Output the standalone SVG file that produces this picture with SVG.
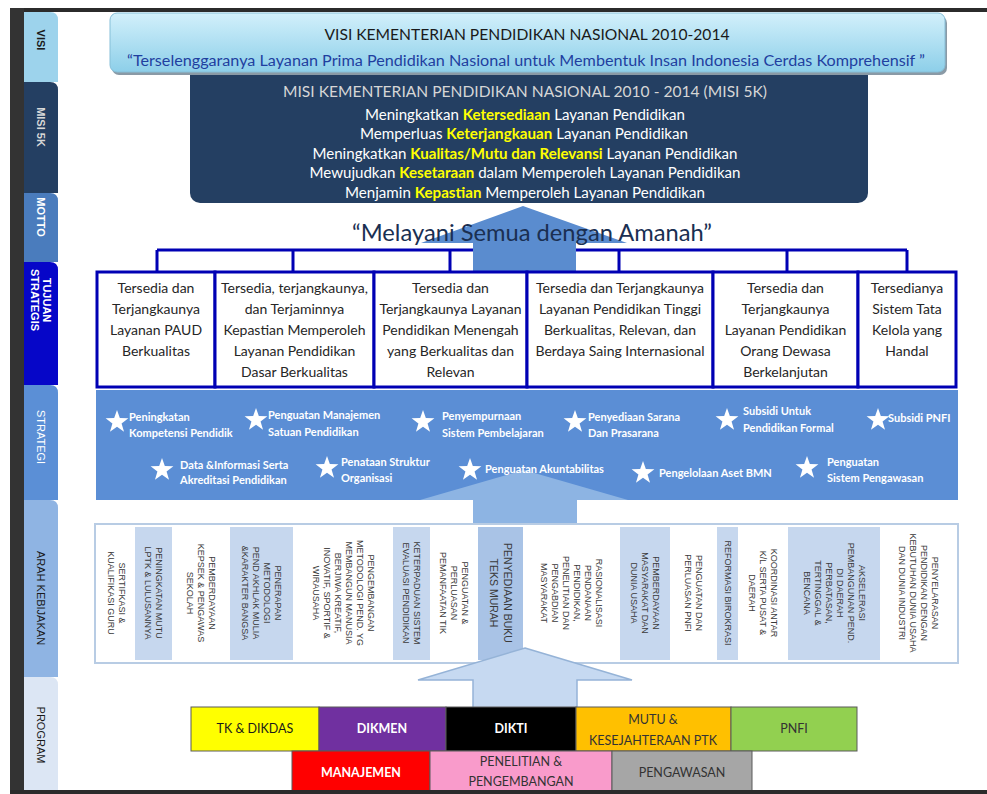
<svg xmlns="http://www.w3.org/2000/svg" width="987" height="794" viewBox="0 0 987 794">
<defs>
  <linearGradient id="visiGrad" x1="0" y1="0" x2="0" y2="1">
    <stop offset="0" stop-color="#d2f0fb"/>
    <stop offset="1" stop-color="#8dcfe9"/>
  </linearGradient>
  <path id="star" d="M0,-12 L2.82,-3.88 L11.41,-3.71 L4.57,1.48 L7.05,9.71 L0,4.8 L-7.05,9.71 L-4.57,1.48 L-11.41,-3.71 L-2.82,-3.88 Z" fill="#ffffff"/>
</defs>
<style>
  .side{font-family:"Liberation Sans",Arial,sans-serif;font-size:11px;dominant-baseline:central;text-anchor:middle}
  .tuj{font-family:Lato,"Open Sans",sans-serif;font-size:14px;fill:#262626;text-anchor:middle}
  .tbox{fill:#ffffff;stroke:#0000b4;stroke-width:3}
  .str{font-family:Lato,"Open Sans",sans-serif;font-size:11px;font-weight:bold;fill:#ffffff}
  .arah{font-family:"Liberation Sans",Arial,sans-serif;font-size:9px;fill:#3a3a3a;text-anchor:middle;dominant-baseline:central}
  .cw{fill:#ffffff}
  .cb{fill:#c6d7ee}
  .prog{stroke:#5a5a5a;stroke-width:1}
  .pt{font-family:Lato,"Open Sans",sans-serif;font-size:12.5px;text-anchor:middle}
  .conn{stroke:#0000b4;stroke-width:3;fill:none}
  .misi{font-family:Lato,"Open Sans",sans-serif;font-size:14.5px;fill:#ffffff;text-anchor:middle}
  .hl{fill:#ffff00;font-weight:bold}
</style>

<rect x="0" y="0" width="987" height="794" fill="#ffffff"/>

<!-- frame -->
<g id="frame">
  <rect x="10" y="8" width="977" height="4" fill="#2b2b2b"/>
  <rect x="10" y="8" width="14" height="786" fill="#333333"/>
</g>

<!-- sidebar tabs -->
<g id="tab-visi">
  <path d="M24,12 H50 Q58,12 58,20 V82 H24 Z" fill="#9dd3ec"/>
  <text class="side" transform="translate(41,40) rotate(90)" fill="#1a1a1a" font-weight="bold">VISI</text>
</g>
<g id="tab-misi">
  <path d="M24,82 H50 Q58,82 58,90 V193 H24 Z" fill="#243f62"/>
  <text class="side" transform="translate(41,127) rotate(90)" fill="#d8d8d8" font-weight="bold">MISI 5K</text>
</g>
<g id="tab-motto">
  <path d="M24,193 H50 Q58,193 58,201 V262 H24 Z" fill="#4a7cbd"/>
  <text class="side" transform="translate(41,217) rotate(90)" fill="#ffffff" font-weight="bold">MOTTO</text>
</g>
<g id="tab-tujuan">
  <path d="M24,262 H50 Q58,262 58,270 V385 H24 Z" fill="#0606c8"/>
  <text class="side" transform="translate(41,300) rotate(90)" fill="#ffffff" font-weight="bold"><tspan x="0" y="-6">TUJUAN</tspan><tspan x="0" y="6">STRATEGIS</tspan></text>
</g>
<g id="tab-strategi">
  <path d="M24,385 H50 Q58,385 58,393 V500 H24 Z" fill="#5b8fd6"/>
  <text class="side" transform="translate(41,437) rotate(90)" fill="#ffffff">STRATEGI</text>
</g>
<g id="tab-arah">
  <path d="M24,500 H50 Q58,500 58,508 V677 H24 Z" fill="#8fb4e3"/>
  <text class="side" transform="translate(41,598) rotate(90)" fill="#1a1a1a">ARAH KEBIJAKAN</text>
</g>
<g id="tab-program">
  <path d="M24,677 H50 Q58,677 58,685 V790 H24 Z" fill="#dce6f4"/>
  <text class="side" transform="translate(41,735) rotate(90)" fill="#1a1a1a">PROGRAM</text>
</g>

<!-- MISI -->
<g id="misi">
  <rect x="190" y="58" width="678" height="145" rx="10" fill="#243f62"/>
  <text class="misi" x="525" y="97" style="fill:#d6d6d6" textLength="484" lengthAdjust="spacingAndGlyphs">MISI KEMENTERIAN PENDIDIKAN NASIONAL 2010 - 2014 (MISI 5K)</text>
  <text class="misi" x="525" y="120" textLength="320" lengthAdjust="spacingAndGlyphs">Meningkatkan <tspan class="hl">Ketersediaan</tspan> Layanan Pendidikan</text>
  <text class="misi" x="524" y="139" textLength="328" lengthAdjust="spacingAndGlyphs">Memperluas <tspan class="hl">Keterjangkauan</tspan> Layanan Pendidikan</text>
  <text class="misi" x="525" y="159" textLength="425" lengthAdjust="spacingAndGlyphs">Meningkatkan <tspan class="hl">Kualitas/Mutu dan Relevansi</tspan> Layanan Pendidikan</text>
  <text class="misi" x="525" y="178" textLength="431" lengthAdjust="spacingAndGlyphs">Mewujudkan <tspan class="hl">Kesetaraan</tspan> dalam Memperoleh Layanan Pendidikan</text>
  <text class="misi" x="525" y="198" textLength="360" lengthAdjust="spacingAndGlyphs">Menjamin <tspan class="hl">Kepastian</tspan> Memperoleh Layanan Pendidikan</text>
</g>

<!-- VISI -->
<g id="visi">
  <rect x="112" y="16" width="835" height="59" rx="7" fill="#8a9aa6"/>
  <rect x="110" y="13" width="835" height="59" rx="7" fill="url(#visiGrad)" stroke="#86bfd8" stroke-width="1"/>
  <text x="527" y="40" font-family="Lato,'Open Sans',sans-serif" font-size="16" fill="#1a1a1a" text-anchor="middle" textLength="405" lengthAdjust="spacingAndGlyphs">VISI KEMENTERIAN PENDIDIKAN NASIONAL 2010-2014</text>
  <text x="526" y="66" font-family="Lato,'Open Sans',sans-serif" font-size="15.5" fill="#1f3fa0" text-anchor="middle" textLength="798" lengthAdjust="spacingAndGlyphs">“Terselenggaranya Layanan Prima Pendidikan Nasional untuk Membentuk Insan Indonesia Cerdas Komprehensif ”</text>
</g>

<!-- connectors -->
<g id="connectors">
  <path class="conn" d="M157,250 H907 M157,250 V272 M293,250 V272 M450,250 V272 M619,250 V272 M787,250 V272 M907,250 V272"/>
  <polygon points="523,206 627,243 576,243 576,272 473,272 473,243 421,243" fill="#5a8ccf"/>
</g>

<!-- MOTTO -->
<g id="motto">
  <text x="532" y="241" font-family="Lato,'Open Sans',sans-serif" font-size="24" fill="#1a2f52" text-anchor="middle" textLength="360" lengthAdjust="spacingAndGlyphs">“Melayani Semua dengan Amanah”</text>
</g>

<!-- TUJUAN STRATEGIS -->
<g id="tujuan-1">
  <rect class="tbox" x="97" y="272" width="118" height="115"/>
  <text class="tuj" x="156" y="293">Tersedia dan<tspan x="156" dy="21">Terjangkaunya</tspan><tspan x="156" dy="21">Layanan PAUD</tspan><tspan x="156" dy="21">Berkualitas</tspan></text>
</g>
<g id="tujuan-2">
  <rect class="tbox" x="215" y="272" width="159" height="115"/>
  <text class="tuj" x="294.5" y="293">Tersedia, terjangkaunya,<tspan x="294.5" dy="21">dan Terjaminnya</tspan><tspan x="294.5" dy="21">Kepastian Memperoleh</tspan><tspan x="294.5" dy="21">Layanan Pendidikan</tspan><tspan x="294.5" dy="21">Dasar Berkualitas</tspan></text>
</g>
<g id="tujuan-3">
  <rect class="tbox" x="374" y="272" width="153" height="115"/>
  <text class="tuj" x="450.5" y="293">Tersedia dan<tspan x="450.5" dy="21">Terjangkaunya Layanan</tspan><tspan x="450.5" dy="21">Pendidikan Menengah</tspan><tspan x="450.5" dy="21">yang Berkualitas dan</tspan><tspan x="450.5" dy="21">Relevan</tspan></text>
</g>
<g id="tujuan-4">
  <rect class="tbox" x="527" y="272" width="186" height="115"/>
  <text class="tuj" x="620" y="293">Tersedia dan Terjangkaunya<tspan x="620" dy="21">Layanan Pendidikan Tinggi</tspan><tspan x="620" dy="21">Berkualitas, Relevan, dan</tspan><tspan x="620" dy="21">Berdaya Saing Internasional</tspan></text>
</g>
<g id="tujuan-5">
  <rect class="tbox" x="713" y="272" width="145" height="115"/>
  <text class="tuj" x="785.5" y="293">Tersedia dan<tspan x="785.5" dy="21">Terjangkaunya</tspan><tspan x="785.5" dy="21">Layanan Pendidikan</tspan><tspan x="785.5" dy="21">Orang Dewasa</tspan><tspan x="785.5" dy="21">Berkelanjutan</tspan></text>
</g>
<g id="tujuan-6">
  <rect class="tbox" x="858" y="272" width="98" height="115"/>
  <text class="tuj" x="907" y="293">Tersedianya<tspan x="907" dy="21">Sistem Tata</tspan><tspan x="907" dy="21">Kelola yang</tspan><tspan x="907" dy="21">Handal</tspan></text>
</g>

<!-- STRATEGI -->
<g id="strategi">
  <rect x="96" y="390" width="862" height="110" fill="#5b8ed5"/>
  <polygon points="524,470 628,500 577,500 577,527 473,527 473,500 420,500" fill="#8db4e3"/>
  <use href="#star" x="117" y="422"/>
  <text class="str" x="129" y="421">Peningkatan<tspan x="129" dy="16">Kompetensi Pendidik</tspan></text>
  <use href="#star" x="256" y="420"/>
  <text class="str" x="268" y="419">Penguatan Manajemen<tspan x="268" dy="17">Satuan Pendidikan</tspan></text>
  <use href="#star" x="423" y="422"/>
  <text class="str" x="442" y="420">Penyempurnaan<tspan x="442" dy="17">Sistem Pembelajaran</tspan></text>
  <use href="#star" x="575" y="422"/>
  <text class="str" x="588" y="421">Penyediaan Sarana<tspan x="588" dy="16">Dan Prasarana</tspan></text>
  <use href="#star" x="727" y="420"/>
  <text class="str" x="743" y="415">Subsidi Untuk<tspan x="743" dy="17">Pendidikan Formal</tspan></text>
  <use href="#star" x="878" y="420"/>
  <text class="str" x="888" y="422">Subsidi PNFI</text>
  <use href="#star" x="162" y="470"/>
  <text class="str" x="180" y="469">Data &amp;Informasi Serta<tspan x="180" dy="15">Akreditasi Pendidikan</tspan></text>
  <use href="#star" x="327" y="468"/>
  <text class="str" x="341" y="466">Penataan Struktur<tspan x="341" dy="16">Organisasi</tspan></text>
  <use href="#star" x="470" y="470"/>
  <text class="str" x="485" y="473">Penguatan Akuntabilitas</text>
  <use href="#star" x="643" y="473"/>
  <text class="str" x="659" y="477">Pengelolaan Aset BMN</text>
  <use href="#star" x="807" y="468"/>
  <text class="str" x="827" y="466">Penguatan<tspan x="827" dy="16">Sistem Pengawasan</tspan></text>
</g>

<!-- ARAH KEBIJAKAN -->
<g id="arah-kebijakan">
  <rect x="95" y="524" width="863" height="139" fill="#ffffff" stroke="#b8cce4" stroke-width="2"/>
  <rect class="cw" x="97" y="527" width="38" height="133"/>
  <rect class="cb" x="135" y="527" width="37" height="133"/>
  <rect class="cw" x="172" y="527" width="58" height="133"/>
  <rect class="cb" x="230" y="527" width="63" height="133"/>
  <rect class="cw" x="293" y="527" width="100" height="133"/>
  <rect class="cb" x="393" y="527" width="37" height="133"/>
  <rect class="cw" x="430" y="527" width="48" height="133"/>
  <rect class="cb" x="478" y="527" width="45" height="133" style="fill:#a9c3e6"/>
  <rect class="cw" x="523" y="527" width="97" height="133"/>
  <rect class="cb" x="620" y="527" width="50" height="133"/>
  <rect class="cw" x="670" y="527" width="47" height="133"/>
  <rect class="cb" x="717" y="527" width="21" height="133"/>
  <rect class="cw" x="738" y="527" width="50" height="133"/>
  <rect class="cb" x="788" y="527" width="92" height="133"/>
  <rect class="cw" x="880" y="527" width="77" height="133"/>

  <text class="arah" transform="translate(121.5,593) rotate(90)"><tspan x="0" y="0">SERTIFKASI &amp;</tspan><tspan x="0" y="11">KUALIFIKASI GURU</tspan></text>
  <text class="arah" transform="translate(159,593) rotate(90)"><tspan x="0" y="0">PENINGKATAN MUTU</tspan><tspan x="0" y="11">LPTK &amp; LULUSANNYA</tspan></text>
  <text class="arah" transform="translate(212,593) rotate(90)"><tspan x="0" y="0">PEMBERDAYAAN</tspan><tspan x="0" y="11">KEPSEK &amp; PENGAWAS</tspan><tspan x="0" y="22">SEKOLAH</tspan></text>
  <text class="arah" transform="translate(278,593) rotate(90)"><tspan x="0" y="0">PENERAPAN</tspan><tspan x="0" y="11">METODOLOGI</tspan><tspan x="0" y="22">PEND AKHLAK MULIA</tspan><tspan x="0" y="33">&amp;KARAKTER BANGSA</tspan></text>
  <text class="arah" transform="translate(371,593) rotate(90)"><tspan x="0" y="0">PENGEMBANGAN</tspan><tspan x="0" y="11">METODOLOGI PEND. YG</tspan><tspan x="0" y="22">MEMBANGUN MANUSIA</tspan><tspan x="0" y="33">BERJIWA KREATIF,</tspan><tspan x="0" y="44">INOVATIF, SPORTIF &amp;</tspan><tspan x="0" y="55">WIRAUSAHA</tspan></text>
  <text class="arah" transform="translate(417,593) rotate(90)"><tspan x="0" y="0">KETERPADUAN SISTEM</tspan><tspan x="0" y="11">EVALUASI PENDIDIKAN</tspan></text>
  <text class="arah" transform="translate(465,593) rotate(90)"><tspan x="0" y="0">PENGUATAN &amp;</tspan><tspan x="0" y="11">PERLUASAN</tspan><tspan x="0" y="22">PEMANFAATAN TIK</tspan></text>
  <text class="arah" transform="translate(508,593) rotate(90)" style="font-size:10.5px"><tspan x="0" y="0">PENYEDIAAN BUKU</tspan><tspan x="0" y="14">TEKS MURAH</tspan></text>
  <text class="arah" transform="translate(599,593) rotate(90)"><tspan x="0" y="0">RASIONALISASI</tspan><tspan x="0" y="11">PENDANAAN</tspan><tspan x="0" y="22">PENDIDIKAN,</tspan><tspan x="0" y="33">PENELITIAN DAN</tspan><tspan x="0" y="44">PENGABDIAN</tspan><tspan x="0" y="55">MASYARAKAT</tspan></text>
  <text class="arah" transform="translate(656,593) rotate(90)"><tspan x="0" y="0">PEMBERDAYAAN</tspan><tspan x="0" y="11">MASYARAKAT DAN</tspan><tspan x="0" y="22">DUNIA USAHA</tspan></text>
  <text class="arah" transform="translate(699,593) rotate(90)"><tspan x="0" y="0">PENGUATAN DAN</tspan><tspan x="0" y="11">PERLUASAN PNFI</tspan></text>
  <text class="arah" transform="translate(727.5,593) rotate(90)"><tspan x="0" y="0">REFORMASI BIROKRASI</tspan></text>
  <text class="arah" transform="translate(774,593) rotate(90)"><tspan x="0" y="0">KOORDINASI ANTAR</tspan><tspan x="0" y="11">K/L SERTA PUSAT &amp;</tspan><tspan x="0" y="22">DAERAH</tspan></text>
  <text class="arah" transform="translate(861.5,593) rotate(90)"><tspan x="0" y="0">AKSELERASI</tspan><tspan x="0" y="11">PEMBANGUNAN PEND.</tspan><tspan x="0" y="22">DI DAERAH</tspan><tspan x="0" y="33">PERBATASAN,</tspan><tspan x="0" y="44">TERTINGGAL &amp;</tspan><tspan x="0" y="55">BENCANA</tspan></text>
  <text class="arah" transform="translate(935,593) rotate(90)"><tspan x="0" y="0">PENYELARASAN</tspan><tspan x="0" y="11">PENDIDIKAN DENGAN</tspan><tspan x="0" y="22">KEBUTUHAN DUNIA USAHA</tspan><tspan x="0" y="33">DAN DUNIA INDUSTRI</tspan></text>
</g>

<!-- arrow from program -->
<g id="program-arrow">
  <polygon points="525,648 632,680 577,680 577,708 473,708 473,680 418,680" fill="#c6d9f1" stroke="#95b3d7" stroke-width="1.5"/>
</g>

<!-- PROGRAM -->
<g id="prog-tk">
  <rect class="prog" x="191" y="707" width="128" height="44" fill="#ffff00"/>
  <text class="pt" x="255" y="733" fill="#1a1a1a">TK &amp; DIKDAS</text>
</g>
<g id="prog-dikmen">
  <rect class="prog" x="319" y="707" width="127" height="44" fill="#7030a0"/>
  <text class="pt" x="382" y="733" fill="#ffffff" font-weight="bold">DIKMEN</text>
</g>
<g id="prog-dikti">
  <rect class="prog" x="446" y="707" width="130" height="44" fill="#000000"/>
  <text class="pt" x="511" y="733" fill="#ffffff" font-weight="bold">DIKTI</text>
</g>
<g id="prog-mutu">
  <rect class="prog" x="576" y="707" width="155" height="44" fill="#ffc000"/>
  <text class="pt" x="653" y="724" fill="#333333">MUTU &amp;<tspan x="653" dy="21">KESEJAHTERAAN PTK</tspan></text>
</g>
<g id="prog-pnfi">
  <rect class="prog" x="731" y="707" width="126" height="44" fill="#92d050"/>
  <text class="pt" x="794" y="733" fill="#333333">PNFI</text>
</g>
<g id="prog-manajemen">
  <rect class="prog" x="292" y="751" width="138" height="41" fill="#ff0000"/>
  <text class="pt" x="361" y="777" fill="#ffffff" font-weight="bold">MANAJEMEN</text>
</g>
<g id="prog-litbang">
  <rect class="prog" x="430" y="751" width="182" height="41" fill="#f99bcb"/>
  <text class="pt" x="521" y="766" fill="#333333">PENELITIAN &amp;<tspan x="521" dy="20">PENGEMBANGAN</tspan></text>
</g>
<g id="prog-pengawasan">
  <rect class="prog" x="612" y="751" width="140" height="41" fill="#a6a6a6"/>
  <text class="pt" x="682" y="777" fill="#333333">PENGAWASAN</text>
</g>
<rect x="10" y="790" width="977" height="4" fill="#2b2b2b"/>
</svg>
